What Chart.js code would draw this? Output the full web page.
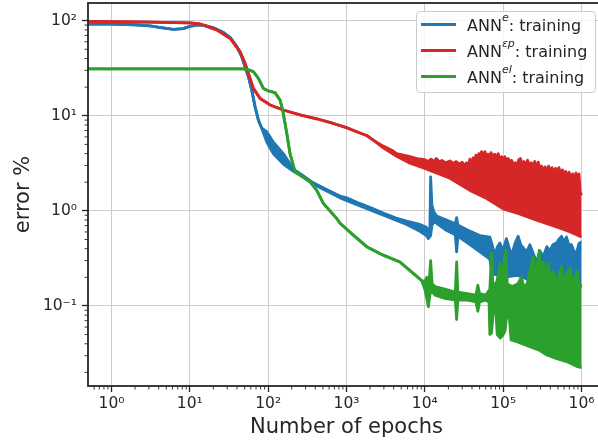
<!DOCTYPE html>
<html>
<head>
<meta charset="utf-8">
<title>training error vs epochs</title>
<script src="https://cdn.jsdelivr.net/npm/chart.js@4.4.1/dist/chart.umd.min.js"></script>
<style>
  html,body{margin:0;padding:0;background:#fff;}
  #wrap{position:relative;width:598px;height:443px;overflow:hidden;}
  #c{position:absolute;left:0;top:0;}
  #legend{position:absolute;left:416px;top:11px;width:180px;height:82px;box-sizing:border-box;
    border:1px solid #cccccc;border-radius:4px;background:rgba(255,255,255,0.8);
    font-family:"DejaVu Sans",sans-serif;font-size:16px;color:#262626;}
  .row{position:absolute;left:0;width:178px;height:26px;line-height:26px;white-space:nowrap;}
  .sw{position:absolute;left:4px;top:10px;width:35px;height:3px;}
  .txt{position:absolute;left:50px;top:0;}
  sup{font-size:11px;font-style:italic;vertical-align:baseline;position:relative;top:-10px;line-height:0;}
</style>
</head>
<body>
<div id="wrap">
  <canvas id="c" width="606" height="443" style="width:606px;height:443px"></canvas>
  <div id="legend">
    <div class="row" style="top:1px"><span class="sw" style="background:#1f77b4"></span><span class="txt">ANN<sup>e</sup>: training</span></div>
    <div class="row" style="top:27px"><span class="sw" style="background:#d62728"></span><span class="txt">ANN<sup>εp</sup>: training</span></div>
    <div class="row" style="top:53px"><span class="sw" style="background:#2ca02c"></span><span class="txt">ANN<sup>el</sup>: training</span></div>
  </div>
</div>
<script>
// [epochs, error %]. *Line = the clean part of a curve,
// *Top / *Bottom = upper and lower edge of the noisy band that follows it.
const blueLine = [[0.5,92],[1,92],[2,90.5],[3.1,88],[4.5,84],[6.2,81],[8.2,82.5],[10,87],[12.4,90],[15,90],[20,84],[27,75],
  [29.6,70.7],[33,66],[39.8,53.3],[46,41.8],[50.7,32.8],[55.9,25.8],[61.8,18.6],[68.1,12.4],[75,9.0],[82.8,7.4]];
const blueTop = [[96,6.8],[116,5.3],[156,4.0],[210,2.75],[260,2.45],[377,1.97],[600,1.63],[826,1.43],[1007,1.37],[1500,1.19],
  [2198,1.05],[3000,0.94],[4300,0.84],[5860,0.78],[8650,0.72],[10500,0.67],[11050,0.61],[11600,0.63],[11860,2.28],[12300,1.15],
  [13000,0.98],[14150,0.88],[19000,0.8],[24500,0.73],[25460,0.85],[26400,0.71],[35000,0.63],[50500,0.55],[67600,0.53],
  [71800,0.45],[78400,0.34],[84300,0.42],[90800,0.46],[99100,0.38],[110000,0.51],[118000,0.42],[128000,0.34],[141000,0.45],
  [155000,0.54],[168000,0.44],[180000,0.41],[200000,0.37],[219000,0.44],[241000,0.36],[267000,0.29],[294000,0.38],
  [324000,0.33],[361000,0.42],[394000,0.38],[430000,0.44],[480000,0.46],[513000,0.5],[556000,0.54],[595000,0.47],
  [644000,0.53],[689000,0.44],[745000,0.44],[797000,0.38],[863000,0.36],[924000,0.45],[980000,0.47],[1000000,0.47]];
const blueBottom = [[96,5.3],[116,4.0],[156,3.1],[210,2.6],[260,2.35],[377,1.91],[826,1.37],[2198,0.99],[5860,0.72],
  [8650,0.61],[10500,0.55],[11050,0.51],[11860,0.55],[12300,0.7],[13000,0.77],[14150,0.74],[19000,0.62],[24500,0.56],
  [25460,0.37],[26400,0.54],[35000,0.46],[50500,0.37],[67600,0.31],[72000,0.22],[100000,0.2],[150000,0.21],[250000,0.18],
  [400000,0.19],[600000,0.17],[1000000,0.155]];

const redLine = [[0.5,98],[1,97.5],[3,96.5],[10,95],[13.5,92.3],[22,80],[32.6,65.3],[43.8,47.2],[50.7,35.6],[55.9,27.9],
  [64.7,19.4],[79,15.2],[106,13],[156,11.5],[255,10.2],[417,9.3],[679,8.3],[1000,7.5],[1350,6.8],[1810,6.2],[2198,5.55]];
const redTop = [[2945,4.8],[3950,4.25],[4365,4.0],[5000,3.9],[6460,3.72],[8000,3.55],[10000,3.45],[11000,3.3],[12000,3.5],
  [13000,3.3],[14000,3.55],[15500,3.25],[16500,3.4],[18500,3.2],[20900,3.35],[23000,3.15],[25000,3.3],[27500,3.1],
  [30000,3.25],[32000,3.0],[34000,3.2],[36000,3.0],[37600,3.5],[39000,3.0],[41400,3.6],[43000,3.3],[45000,3.85],
  [47000,3.5],[49000,4.0],[51000,3.7],[53000,4.2],[56000,3.8],[58500,4.2],[61000,3.7],[64000,3.95],[67000,3.6],
  [70000,4.1],[74000,3.7],[78000,3.95],[82000,3.6],[86300,4.0],[91000,3.5],[96000,3.7],[100000,3.42],[105000,3.7],
  [110000,3.4],[116000,3.55],[122000,3.2],[128000,3.4],[135000,3.1],[142000,3.2],[150000,3.0],[158000,3.45],
  [166000,3.55],[175000,3.1],[184000,3.3],[194000,3.05],[205000,3.4],[216000,3.0],[228000,3.2],[240000,2.95],
  [253000,3.3],[266000,2.9],[280000,3.25],[295000,2.8],[310000,2.95],[326000,2.6],[343000,2.9],[361000,2.6],
  [380000,2.95],[400000,2.6],[420000,2.85],[442000,2.5],[465000,2.8],[490000,2.55],[515000,2.85],[540000,2.45],
  [570000,2.7],[600000,2.4],[630000,2.6],[660000,2.3],[695000,2.55],[730000,2.2],[770000,2.45],[810000,2.15],
  [850000,2.5],[895000,2.1],[930000,2.45],[960000,1.6],[1000000,1.46]];
const redBottom = [[2945,4.6],[4365,3.75],[6460,3.17],[10000,2.8],[20900,2.2],[37600,1.64],[61700,1.35],[100000,1.05],
  [155000,0.94],[267000,0.8],[470000,0.68],[720000,0.6],[1000000,0.53]];

const greenLine = [[0.5,31.2],[48,31.2],[55.6,30.5],[64.7,29.1],[75,24.8],[86.9,19.4],[100,18.3],[122,17.5],[142,14.6],
  [153,11.5],[173,6.5],[190,4.0],[220,2.58],[268,2.32],[342,2.03],[417,1.64],[506,1.2],[750,0.83],[826,0.74],
  [1222,0.555],[1810,0.42],[2945,0.342],[4810,0.29],[7110,0.22],[9100,0.185]];
const greenTop = [[10000,0.18],[10600,0.2],[11300,0.17],[11860,0.3],[12400,0.17],[13500,0.16],[18000,0.15],[24500,0.14],
  [25460,0.29],[26400,0.14],[35000,0.135],[45000,0.13],[47500,0.165],[50000,0.135],[60000,0.13],[67600,0.15],
  [71100,0.36],[74000,0.16],[83000,0.18],[92000,0.28],[97000,0.17],[103000,0.3],[108000,0.385],[113000,0.17],
  [130000,0.16],[153000,0.17],[172000,0.2],[181000,0.16],[202000,0.17],[221000,0.24],[242000,0.33],[258000,0.2],
  [275000,0.28],[289000,0.385],[299000,0.2],[325000,0.29],[344000,0.18],[375000,0.28],[400000,0.19],[435000,0.23],
  [470000,0.17],[505000,0.2],[556000,0.26],[595000,0.18],[650000,0.22],[710000,0.25],[770000,0.18],[830000,0.2],
  [880000,0.23],[935000,0.17],[1000000,0.16]];
const greenBottom = [[10000,0.15],[10600,0.12],[11100,0.098],[11600,0.13],[11860,0.14],[12400,0.14],[13500,0.13],
  [18000,0.12],[24500,0.115],[25460,0.072],[26400,0.115],[35000,0.115],[45000,0.11],[47500,0.088],[50000,0.11],
  [60000,0.115],[66000,0.11],[67600,0.05],[71000,0.052],[76000,0.1],[80000,0.1],[84000,0.05],[92000,0.046],
  [100000,0.05],[106000,0.055],[110000,0.075],[120000,0.075],[126000,0.044],[150000,0.042],[219000,0.0373],
  [294000,0.034],[361000,0.0305],[475000,0.028],[645000,0.026],[863000,0.0232],[1000000,0.0225]];

// axis ticks
const xMajor = [1,10,100,1e3,1e4,1e5,1e6];
const xLabels = ["10⁰","10¹","10²","10³","10⁴","10⁵","10⁶"];
const yMajor = [0.1,1,10,100];
const yLabels = ["10⁻¹","10⁰","10¹","10²"];
const X_MIN = Math.pow(10,-0.3), X_MAX = Math.pow(10,6.3);
const Y_MIN = Math.pow(10,-1.842), Y_MAX = Math.pow(10,2.186);

const INK = "#262626";
const BLUE = "#1f77b4", RED = "#d62728", GREEN = "#2ca02c";

const pts = (arr)=>arr.map(p=>({x:p[0], y:p[1]}));

function logTicks(major, lo, hi){
  const out = [];
  for (const m of major.concat([major[0]/10])){
    for (let k=1;k<=9;k++){
      const v = m*k;
      if (v>=lo && v<=hi) out.push({value:v, major:k===1});
    }
  }
  return out.sort((a,b)=>a.value-b.value);
}
function labelFor(major, labels, v){
  const i = major.findIndex(m=>Math.abs(m-v)/m < 1e-9);
  return i<0 ? "" : labels[i];
}

// each curve = lower edge + upper edge filled to it
function band(line, top, bottom, color, order){
  const base = {borderColor:color, backgroundColor:color, borderWidth:2.8, pointRadius:0,
    tension:0, order, borderJoinStyle:"round"};
  return [
    {...base, data:pts(line.concat(bottom)), fill:false},
    {...base, data:pts(line.concat(top)), fill:"-1"}
  ];
}

// minor tick marks (shorter than majors) and the box round the plot
const frame = {
  id:"frame",
  afterDraw(chart){
    const {ctx, chartArea:a, scales} = chart;
    ctx.save();
    ctx.strokeStyle = INK;
    ctx.lineWidth = 0.9;
    ctx.beginPath();
    for (const t of scales.x.ticks){
      if (t.major) continue;
      const p = scales.x.getPixelForValue(t.value);
      ctx.moveTo(p, a.bottom); ctx.lineTo(p, a.bottom+3.5);
    }
    for (const t of scales.y.ticks){
      if (t.major) continue;
      const p = scales.y.getPixelForValue(t.value);
      ctx.moveTo(a.left, p); ctx.lineTo(a.left-3.5, p);
    }
    ctx.stroke();
    ctx.lineWidth = 1.8;
    ctx.strokeRect(a.left, a.top, a.right-a.left, a.bottom-a.top);
    ctx.restore();
  }
};

Chart.defaults.font.family = "'DejaVu Sans', sans-serif";
Chart.defaults.color = INK;

const gridColor = (c)=> (c.tick && c.tick.major) ? "#cccccc" : "rgba(0,0,0,0)";
const tickColor = (c)=> (c.tick && c.tick.major) ? INK : "rgba(0,0,0,0)";

new Chart(document.getElementById("c"), {
  type:"line",
  data:{
    datasets:[
      ...band(blueLine, blueTop, blueBottom, BLUE, 3),
      ...band(redLine, redTop, redBottom, RED, 2),
      ...band(greenLine, greenTop, greenBottom, GREEN, 1)
    ]
  },
  options:{
    responsive:false,
    animation:false,
    layout:{padding:{top:3, right:1, left:0, bottom:0}},
    plugins:{legend:{display:false}, tooltip:{enabled:false}},
    scales:{
      x:{
        type:"logarithmic", min:X_MIN, max:X_MAX, bounds:"data",
        afterBuildTicks:(s)=>{ s.ticks = logTicks(xMajor, X_MIN, X_MAX); },
        afterFit:(s)=>{ s.height = 57; s.paddingLeft = 0; s.paddingRight = 0; },
        grid:{color:gridColor, lineWidth:1, tickColor, tickLength:6, tickWidth:1.3},
        border:{display:false},
        ticks:{autoSkip:false, maxRotation:0, padding:3, font:{size:15.5},
          callback:(v)=>labelFor(xMajor, xLabels, v)},
        title:{display:true, text:"Number of epochs", font:{size:21}, padding:{top:0, bottom:3}}
      },
      y:{
        type:"logarithmic", min:Y_MIN, max:Y_MAX, bounds:"data",
        afterBuildTicks:(s)=>{ s.ticks = logTicks(yMajor, Y_MIN, Y_MAX); },
        afterFit:(s)=>{ s.width = 88; s.paddingTop = 0; s.paddingBottom = 0; },
        grid:{color:gridColor, lineWidth:1, tickColor, tickLength:6, tickWidth:1.3},
        border:{display:false},
        ticks:{autoSkip:false, padding:5, font:{size:15.5},
          callback:(v)=>labelFor(yMajor, yLabels, v)},
        title:{display:true, text:"error %", font:{size:21}, padding:{top:11, bottom:0}}
      }
    }
  },
  plugins:[frame]
});
</script>
</body>
</html>
